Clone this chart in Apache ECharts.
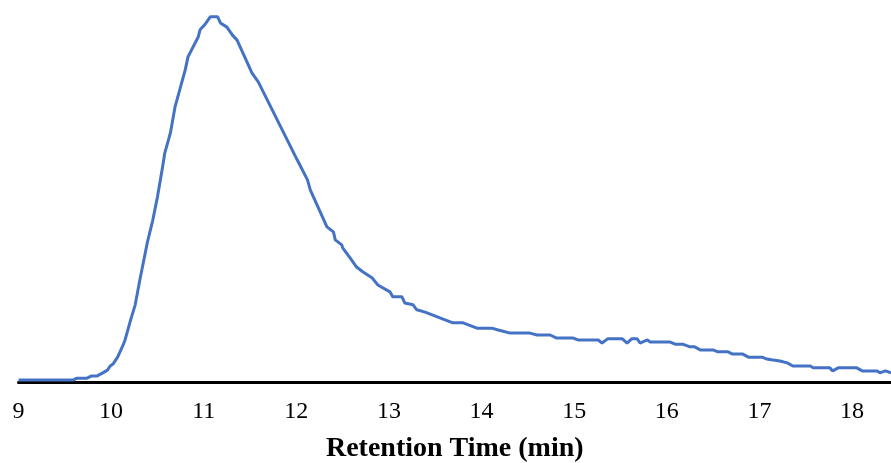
<!DOCTYPE html>
<html>
<head>
<meta charset="utf-8">
<script src="https://cdn.jsdelivr.net/npm/echarts@6/dist/echarts.min.js"></script>
<style>
html,body{margin:0;padding:0;background:#fff;}
#chart{width:891px;height:463px;}
</style>
</head>
<body>
<div id="chart"></div>
<script>
// Retention time (min)
var retentionTime = [
  9.00, 9.59, 9.63, 9.74, 9.79, 9.85, 9.91, 9.96, 9.99, 10.02,
  10.07, 10.13, 10.15, 10.18, 10.21, 10.26, 10.31, 10.39, 10.45, 10.50,
  10.55, 10.58, 10.64, 10.69, 10.74, 10.80, 10.83, 10.94, 10.96, 11.01,
  11.07, 11.15, 11.18, 11.25, 11.31, 11.36, 11.37, 11.52, 11.59, 12.01,
  12.12, 12.15, 12.33, 12.40, 12.42, 12.49, 12.50, 12.58, 12.65, 12.72,
  12.82, 12.88, 13.01, 13.04, 13.14, 13.17, 13.26, 13.30, 13.39, 13.55,
  13.69, 13.80, 13.95, 14.11, 14.18, 14.31, 14.52, 14.60, 14.74, 14.81,
  14.99, 15.04, 15.26, 15.30, 15.36, 15.52, 15.57, 15.62, 15.68, 15.71,
  15.79, 15.82, 16.03, 16.09, 16.17, 16.25, 16.30, 16.36, 16.50, 16.55,
  16.66, 16.71, 16.82, 16.88, 17.03, 17.08, 17.13, 17.22, 17.30, 17.36,
  17.55, 17.58, 17.76, 17.79, 17.85, 18.05, 18.11, 18.27, 18.30, 18.36,
  18.42
];
// Detector signal (relative units)
var signal = [
  0.5, 0.5, 1.0, 1.0, 1.6, 1.6, 2.4, 3.1, 4.2, 4.7,
  6.5, 9.7, 11.0, 13.6, 16.2, 20.2, 26.7, 36.4, 42.4, 48.4,
  55.5, 60.0, 65.2, 72.0, 76.4, 81.7, 85.1, 90.3, 92.2, 93.5,
  95.6, 95.6, 94.0, 92.9, 90.8, 89.5, 89.0, 80.9, 78.5, 58.1,
  52.9, 50.3, 40.6, 39.3, 37.2, 35.9, 35.1, 32.5, 30.1, 28.8,
  27.2, 25.4, 23.6, 22.3, 22.3, 20.7, 20.2, 18.9, 18.3, 16.8,
  15.5, 15.5, 14.1, 14.1, 13.6, 12.8, 12.8, 12.3, 12.3, 11.5,
  11.5, 11.0, 11.0, 10.2, 11.3, 11.3, 10.2, 11.3, 11.3, 10.2,
  11.0, 10.5, 10.5, 9.9, 9.9, 9.2, 9.2, 8.4, 8.4, 7.9,
  7.9, 7.3, 7.3, 6.5, 6.5, 6.0, 5.8, 5.5, 5.0, 4.2,
  4.2, 3.7, 3.7, 2.9, 3.7, 3.7, 2.9, 2.9, 2.4, 2.9,
  2.4
];
var xTickLabels = ['9','10','11','12','13','14','15','16','17','18'];
var xMin = 9, xMax = 18.42;

var points = retentionTime.map(function (t, i) { return [t, signal[i]]; });

var chart = echarts.init(document.getElementById('chart'), null, {renderer: 'canvas'});
chart.setOption({
  animation: false,
  backgroundColor: '#ffffff',
  grid: {left: 18.5, right: 0, top: 0, bottom: 81, containLabel: false, outerBoundsMode: 'none'},
  xAxis: {
    type: 'value',
    min: xMin,
    max: xMax,
    interval: 1,
    name: 'Retention Time (min)',
    nameLocation: 'middle',
    nameGap: 53,
    nameTextStyle: {fontFamily: 'Liberation Serif', fontWeight: 'bold', fontSize: 28, color: '#000'},
    axisLine: {show: true, lineStyle: {color: '#000', width: 3}},
    axisTick: {show: false},
    splitLine: {show: false},
    axisLabel: {
      margin: 18,
      fontFamily: 'Liberation Serif',
      fontSize: 24,
      color: '#000',
      showMaxLabel: false,
      formatter: function (v) {
        var idx = Math.round(v - xMin);
        return (Math.abs(v - Math.round(v)) < 1e-6 && xTickLabels[idx] !== undefined) ? xTickLabels[idx] : '';
      }
    }
  },
  yAxis: {
    type: 'value',
    min: 0,
    max: 100,
    show: false,
    splitLine: {show: false}
  },
  series: [{
    type: 'line',
    data: points,
    showSymbol: false,
    symbol: 'none',
    lineStyle: {color: '#4472C4', width: 3},
    z: 1
  }]
});
</script>
</body>
</html>
